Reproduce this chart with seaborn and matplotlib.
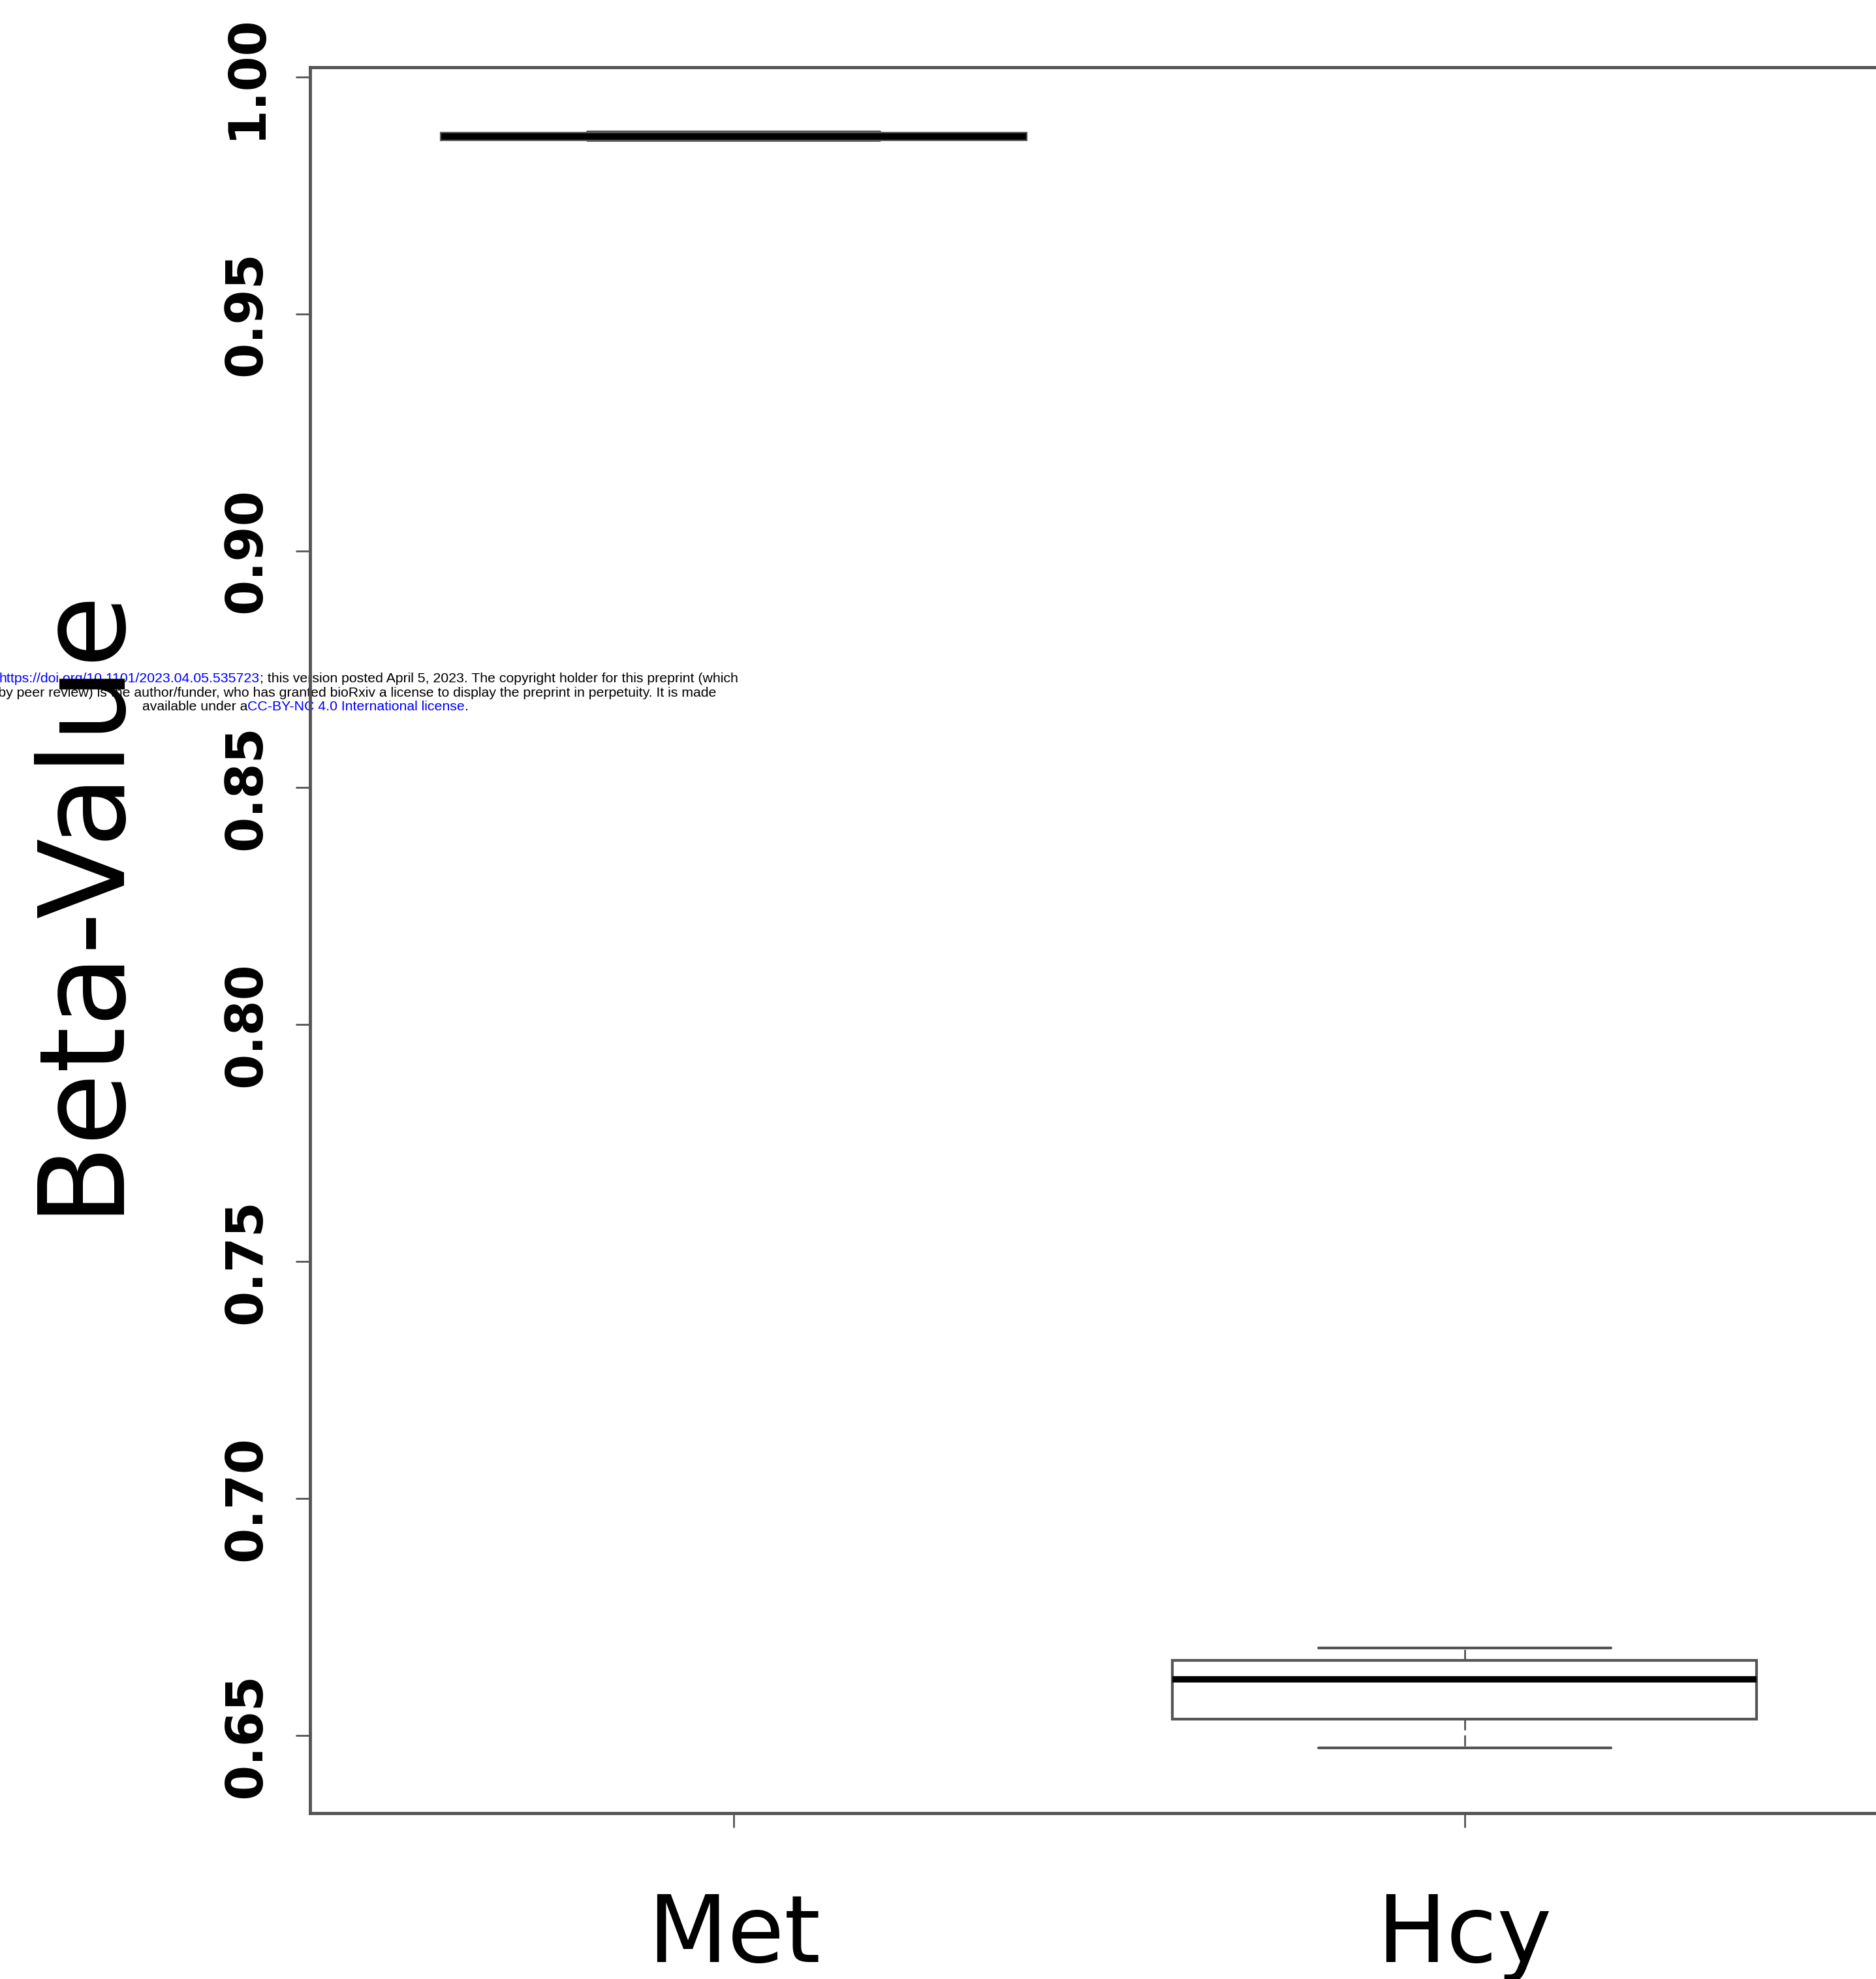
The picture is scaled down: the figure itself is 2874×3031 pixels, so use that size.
import numpy as np
import pandas as pd
import matplotlib
matplotlib.use('Agg')
import matplotlib.pyplot as plt
import seaborn as sns

# values, 5 samples per group (min, q1, median, q3, max)
groups = ['Met', 'Hcy']
met_beta = [0.9866, 0.9867, 0.9874, 0.9881, 0.9884]
hcy_beta = [0.6474, 0.6535, 0.6618, 0.6658, 0.6685]
y_ticks = [0.65, 0.70, 0.75, 0.80, 0.85, 0.90, 0.95, 1.00]
y_tick_labels = ['0.65', '0.70', '0.75', '0.80', '0.85', '0.90', '0.95', '1.00']
y_label = 'Beta-Value'

# bioRxiv header stamped over the figure (text, colour)
wm_lines = [
    [('bioRxiv preprint doi: ', 'black'),
     ('https://doi.org/10.1101/2023.04.05.535723', '#0000ff'),
     ('; this version posted April 5, 2023. The copyright holder for this preprint (which', 'black')],
    [('was not certified by peer review) is the author/funder, who has granted bioRxiv a license to display the preprint in perpetuity. It is made', 'black')],
    [('available under a', 'black'),
     ('CC-BY-NC 4.0 International license', '#0000ff'),
     ('.', 'black')],
]

df = pd.DataFrame({
    'group': ['Met'] * len(met_beta) + ['Hcy'] * len(hcy_beta),
    'beta': met_beta + hcy_beta,
})

sns.set_style('white')
plt.rcParams['font.family'] = ['DejaVu Sans']
plt.rcParams['text.color'] = 'black'
plt.rcParams['axes.labelcolor'] = 'black'
plt.rcParams['xtick.color'] = 'black'
plt.rcParams['ytick.color'] = 'black'

W, H = 2874, 3031
fig = plt.figure(figsize=(W / 100, H / 100), dpi=100)
ax = fig.add_axes([0.16527, 0.0838, 0.8413, 0.88232])
ax.patch.set_alpha(0)   # header text shows through the plot area

grey = '#555555'
sns.boxplot(data=df, x='group', y='beta', order=groups, width=0.8,
            color='white', linecolor=grey, showfliers=False, ax=ax,
            boxprops=dict(linewidth=3),
            whiskerprops=dict(linewidth=2, linestyle=(0, (6, 2.8))),
            capprops=dict(linewidth=3),
            medianprops=dict(color='black', linewidth=7))

ax.set_xlim(-0.58, 1.58)
ax.set_ylim(0.6336, 1.00207)

for s in ax.spines.values():
    s.set_visible(True)
    s.set_color(grey)
    s.set_linewidth(3.5)

ax.set_yticks(y_ticks)
ax.set_yticklabels(y_tick_labels, rotation=90, va='center', fontsize=56, fontweight='bold')
ax.tick_params(axis='y', left=True, length=16, width=2, color=grey, labelcolor='black', pad=27)
ax.tick_params(axis='x', bottom=True, length=16, width=2, color=grey, labelcolor='black', pad=70, labelsize=102)
ax.set_xlabel('')
ax.set_ylabel(y_label, fontsize=130, color='black')
ax.yaxis.set_label_coords(-0.109, 0.5235)

# header lines, centred at x=468 px, drawn under the axes
wm_font = dict(family='Liberation Sans', fontsize=15.3)
renderer = fig.canvas.get_renderer()


def text_w(s):
    t = fig.text(0, 0, s + '|', **wm_font)
    w1 = t.get_window_extent(renderer).width
    t.set_text('|')
    w2 = t.get_window_extent(renderer).width
    t.remove()
    return w1 - w2


wm_center = 468
wm_baselines = [1045, 1066.5, 1088]
for parts, yb in zip(wm_lines, wm_baselines):
    full = ''.join(p for p, c in parts)
    x0 = wm_center - text_w(full) / 2
    for p, c in parts:
        fig.text(x0 / W, 1 - yb / H, p, color=c, ha='left', va='baseline', zorder=-1, **wm_font)
        x0 += text_w(p)

fig.savefig('out.png', dpi=100)
